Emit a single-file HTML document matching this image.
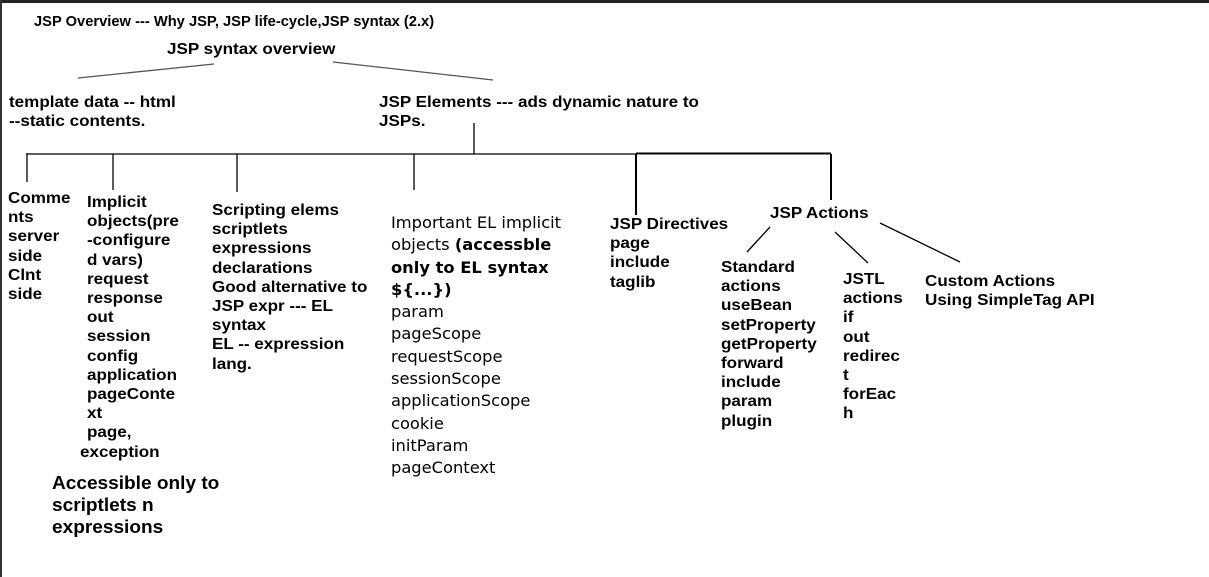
<!DOCTYPE html>
<html><head><meta charset="utf-8"><style>
body{margin:0;width:1209px;height:577px;background:#fff;position:relative;overflow:hidden;font-family:"Liberation Sans",Arial,sans-serif;font-weight:bold;font-size:15.5px;color:#000}
.t{position:absolute;line-height:19.2px;white-space:nowrap;transform:scaleX(1.1);transform-origin:0 0}
.d{position:absolute;font-family:"DejaVu Sans",sans-serif;font-weight:normal;font-size:16.3px;line-height:22.3px;white-space:nowrap}
.d b{font-weight:bold}
svg{position:absolute;left:0;top:0}
</style></head><body>
<svg width="1209" height="577">
<rect x="0" y="0" width="1209" height="3" fill="#222"/>
<rect x="0" y="0" width="2" height="577" fill="#333"/>
<g stroke="#000" stroke-width="1.3" fill="none">
<line x1="78" y1="78" x2="214" y2="64" stroke="#555"/>
<line x1="333" y1="62" x2="493" y2="80" stroke="#555"/>
<line x1="27" y1="154" x2="636" y2="154"/>
<line x1="636" y1="153.5" x2="831" y2="153.5" stroke-width="2"/>
<line x1="27" y1="153" x2="27" y2="182"/>
<line x1="113" y1="154" x2="113" y2="190"/>
<line x1="237" y1="154" x2="237" y2="192"/>
<line x1="414" y1="154" x2="414" y2="190"/>
<line x1="474" y1="123" x2="474" y2="154"/>
<line x1="636" y1="154" x2="636" y2="215" stroke-width="2"/>
<line x1="831" y1="154" x2="831" y2="200" stroke-width="2"/>
<line x1="770" y1="227" x2="747" y2="252"/>
<line x1="835" y1="232" x2="868" y2="263"/>
<line x1="880" y1="223" x2="960" y2="262"/>
</g>
</svg>
<div class="t" style="left:34px;top:12px;font-size:15px;transform:scaleX(0.98)">JSP Overview --- Why JSP, JSP life-cycle,JSP syntax (2.x)</div>
<div class="t" style="left:167px;top:40px">JSP syntax overview</div>
<div class="t" style="left:9px;top:93px">template data -- html<br>--static contents.</div>
<div class="t" style="left:379px;top:93px">JSP Elements --- ads dynamic nature to<br>JSPs.</div>
<div class="t" style="left:8px;top:189px">Comme<br>nts<br>server<br>side<br>Clnt<br>side</div>
<div class="t" style="left:87px;top:193px">Implicit<br>objects(pre<br>-configure<br>d vars)<br>request<br>response<br>out<br>session<br>config<br>application<br>pageConte<br>xt<br>page,</div>
<div class="t" style="left:80px;top:443px">exception</div>
<div class="t" style="left:52px;top:472px;font-size:18.5px;line-height:22px;transform:scaleX(1.03)">Accessible only to<br>scriptlets n<br>expressions</div>
<div class="t" style="left:212px;top:201px">Scripting elems<br>scriptlets<br>expressions<br>declarations<br>Good alternative to<br>JSP expr --- EL<br>syntax<br>EL -- expression<br>lang.</div>
<div class="d" style="left:391px;top:212px">Important EL implicit<br>objects <b>(accessble<br>only to EL syntax<br>${...})</b><br>param<br>pageScope<br>requestScope<br>sessionScope<br>applicationScope<br>cookie<br>initParam<br>pageContext</div>
<div class="t" style="left:610px;top:215px">JSP Directives<br>page<br>include<br>taglib</div>
<div class="t" style="left:770px;top:204px">JSP Actions</div>
<div class="t" style="left:721px;top:258px">Standard<br>actions<br>useBean<br>setProperty<br>getProperty<br>forward<br>include<br>param<br>plugin</div>
<div class="t" style="left:843px;top:270px">JSTL<br>actions<br>if<br>out<br>redirec<br>t<br>forEac<br>h</div>
<div class="t" style="left:925px;top:272px">Custom Actions<br>Using SimpleTag API</div>
</body></html>
